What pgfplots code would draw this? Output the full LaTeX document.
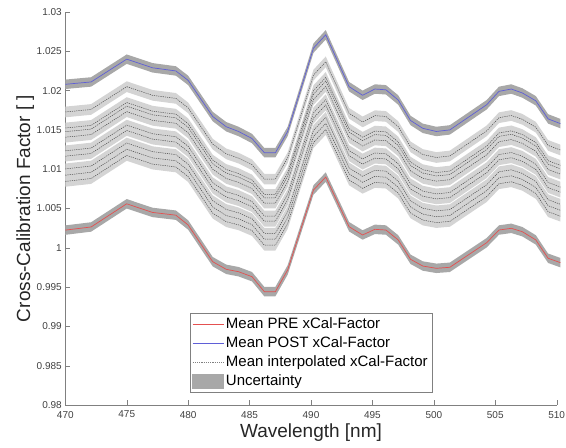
\documentclass[border=0pt]{standalone}
\usepackage{fontspec}
\setmainfont{Liberation Sans}
\usepackage{pgfplots}
\pgfplotsset{compat=1.18}
\usepackage{pgfplotstable}
\usepgfplotslibrary{fillbetween}
\definecolor{prered}{RGB}{228,80,80}
\definecolor{postblue}{RGB}{95,95,215}
\definecolor{bandlight}{RGB}{212,212,212}
\definecolor{banddark}{RGB}{168,168,168}
\pgfplotstableread{
x pre post a b c d e g h i j
470.0 1.00225 1.0208 1.01728 1.01524 1.01477 1.01407 1.01234 1.01166 1.01004 1.00924 1.00845
472.1 1.00265 1.0211 1.01760 1.01557 1.01510 1.01440 1.01269 1.01200 1.01040 1.00961 1.00881
475.0 1.00560 1.0240 1.02050 1.01848 1.01802 1.01732 1.01561 1.01493 1.01333 1.01254 1.01175
477.1 1.00450 1.0229 1.01940 1.01738 1.01692 1.01622 1.01451 1.01383 1.01223 1.01144 1.01065
479.0 1.00415 1.0225 1.01901 1.01700 1.01654 1.01584 1.01413 1.01345 1.01186 1.01107 1.01028
480.0 1.00290 1.0213 1.01780 1.01578 1.01532 1.01462 1.01291 1.01223 1.01063 1.00984 1.00905
482.0 0.99823 1.0167 1.01319 1.01116 1.01070 1.01000 1.00828 1.00759 1.00599 1.00519 1.00440
483.1 0.99726 1.0154 1.01195 1.00996 1.00950 1.00882 1.00713 1.00646 1.00488 1.00410 1.00332
484.1 0.99696 1.0148 1.01141 1.00945 1.00900 1.00832 1.00667 1.00600 1.00445 1.00369 1.00292
485.2 0.99632 1.0139 1.01056 1.00863 1.00819 1.00752 1.00588 1.00523 1.00370 1.00295 1.00219
486.2 0.99442 1.0121 1.00874 1.00680 1.00635 1.00568 1.00404 1.00338 1.00185 1.00109 1.00033
487.1 0.99442 1.0121 1.00874 1.00680 1.00635 1.00568 1.00404 1.00338 1.00185 1.00109 1.00033
488.1 0.99718 1.0148 1.01145 1.00951 1.00907 1.00840 1.00677 1.00611 1.00458 1.00382 1.00307
490.2 1.00735 1.0254 1.02197 1.01999 1.01953 1.01885 1.01717 1.01650 1.01493 1.01416 1.01338
491.2 1.00900 1.0271 1.02366 1.02167 1.02122 1.02053 1.01885 1.01818 1.01660 1.01582 1.01505
493.1 1.00268 1.0205 1.01711 1.01515 1.01471 1.01403 1.01237 1.01172 1.01016 1.00940 1.00863
494.2 1.00163 1.0194 1.01602 1.01407 1.01363 1.01295 1.01130 1.01064 1.00909 1.00833 1.00757
495.2 1.00235 1.0202 1.01681 1.01485 1.01440 1.01372 1.01206 1.01140 1.00985 1.00908 1.00831
496.1 1.00226 1.0201 1.01671 1.01475 1.01430 1.01362 1.01196 1.01130 1.00975 1.00898 1.00822
497.1 1.00100 1.0188 1.01542 1.01346 1.01302 1.01234 1.01068 1.01003 1.00848 1.00771 1.00695
498.1 0.99854 1.0162 1.01285 1.01090 1.01046 1.00979 1.00815 1.00749 1.00596 1.00520 1.00444
499.1 0.99768 1.0152 1.01187 1.00994 1.00951 1.00884 1.00721 1.00656 1.00504 1.00429 1.00353
500.2 0.99739 1.0148 1.01149 1.00958 1.00914 1.00848 1.00686 1.00622 1.00470 1.00395 1.00321
501.3 0.99752 1.0150 1.01168 1.00976 1.00932 1.00866 1.00703 1.00638 1.00486 1.00411 1.00336
504.3 1.00065 1.0182 1.01487 1.01294 1.01250 1.01183 1.01020 1.00955 1.00802 1.00727 1.00651
505.3 1.00226 1.0199 1.01655 1.01461 1.01417 1.01350 1.01186 1.01120 1.00967 1.00891 1.00815
506.3 1.00248 1.0202 1.01683 1.01488 1.01444 1.01377 1.01212 1.01146 1.00992 1.00916 1.00840
507.2 1.00205 1.0197 1.01635 1.01441 1.01396 1.01329 1.01165 1.01100 1.00946 1.00870 1.00795
508.3 1.00100 1.0187 1.01534 1.01339 1.01295 1.01228 1.01063 1.00997 1.00843 1.00767 1.00691
509.3 0.99867 1.0164 1.01303 1.01108 1.01064 1.00996 1.00832 1.00766 1.00612 1.00535 1.00459
510.3 0.99811 1.0158 1.01244 1.01049 1.01005 1.00938 1.00773 1.00708 1.00554 1.00478 1.00402
}\data
\begin{document}
\begin{tikzpicture}
\begin{axis}[
  scale only axis, width=491.4pt, height=393pt,
  xmin=470, xmax=510, ymin=0.98, ymax=1.03,
  axis x line*=bottom, axis y line*=left,
  clip=false,
  xtick={470,475,480,485,490,495,500,505,510},
  ytick={0.98,0.985,0.99,0.995,1,1.005,1.01,1.015,1.02,1.025,1.03},
  tick align=inside, major tick length=5pt,
  scaled y ticks=false,
  yticklabel style={/pgf/number format/.cd, fixed, precision=3},
  xticklabel style={yshift=-2.5pt},
  /pgf/number format/assume math mode=true,
  tick label style={font=\fontsize{10}{12}\selectfont, text=black!75},
  axis line style={black!50}, tick style={black!50},
  xlabel={Wavelength [nm]}, ylabel={Cross-Calibration Factor [ ]},
  label style={font=\fontsize{19}{22}\selectfont, text=black!85},
  xlabel style={at={(axis description cs:0.5,-0.071)}, anchor=center},
  ylabel style={at={(axis description cs:-0.0814,0.5)}, anchor=center},
  legend image code/.code={\draw[#1] (0pt,0pt) -- (31pt,0pt);},
  legend cell align=left,
  legend style={at={(axis description cs:0.5,0.033)}, anchor=south,
    font=\fontsize{15}{18}\selectfont, draw=black!50, fill=white,
    inner sep=2.5pt, row sep=2.6pt},
]
\pgfplotsinvokeforeach{a,b,c,d,e,g,h,i,j}{
  \addplot[draw=none, name path=U#1, forget plot] table[x=x, y expr=\thisrow{#1}+0.00068]{\data};
  \addplot[draw=none, name path=L#1, forget plot] table[x=x, y expr=\thisrow{#1}-0.00068]{\data};
  \addplot[fill=bandlight, draw=none, forget plot] fill between[of=U#1 and L#1];
}
\pgfplotsinvokeforeach{pre,post}{
  \addplot[draw=none, name path=U#1, forget plot] table[x=x, y expr=\thisrow{#1}+0.0006]{\data};
  \addplot[draw=none, name path=L#1, forget plot] table[x=x, y expr=\thisrow{#1}-0.0006]{\data};
  \addplot[fill=banddark, draw=none, forget plot] fill between[of=U#1 and L#1];
}
\pgfplotsinvokeforeach{a,b,c,d,e,g,h,i,j}{
  \addplot[black!70, line width=0.5pt, dash pattern=on 1.2pt off 1pt, forget plot] table[x=x, y=#1]{\data};
}
\addplot[prered, line width=0.7pt, forget plot] table[x=x, y=pre]{\data};
\addplot[postblue, line width=0.7pt, forget plot] table[x=x, y=post]{\data};
\addlegendimage{prered, line width=0.6pt}
\addlegendentry{Mean PRE xCal-Factor}
\addlegendimage{postblue, line width=0.6pt}
\addlegendentry{Mean POST xCal-Factor}
\addlegendimage{black!50, line width=0.5pt, dash pattern=on 1.2pt off 1pt}
\addlegendentry{Mean interpolated xCal-Factor}
\addlegendimage{legend image code/.code={\fill[banddark] (0pt,-7pt) rectangle (31pt,7pt);}}
\addlegendentry{Uncertainty}
\end{axis}
\path (current axis.south west) ++(-65.3pt,-43pt) coordinate (bbl);
\path (current axis.north east) ++(9.3pt,12pt) coordinate (btr);
\pgfresetboundingbox
\useasboundingbox (bbl) rectangle (btr);
\end{tikzpicture}
\end{document}
